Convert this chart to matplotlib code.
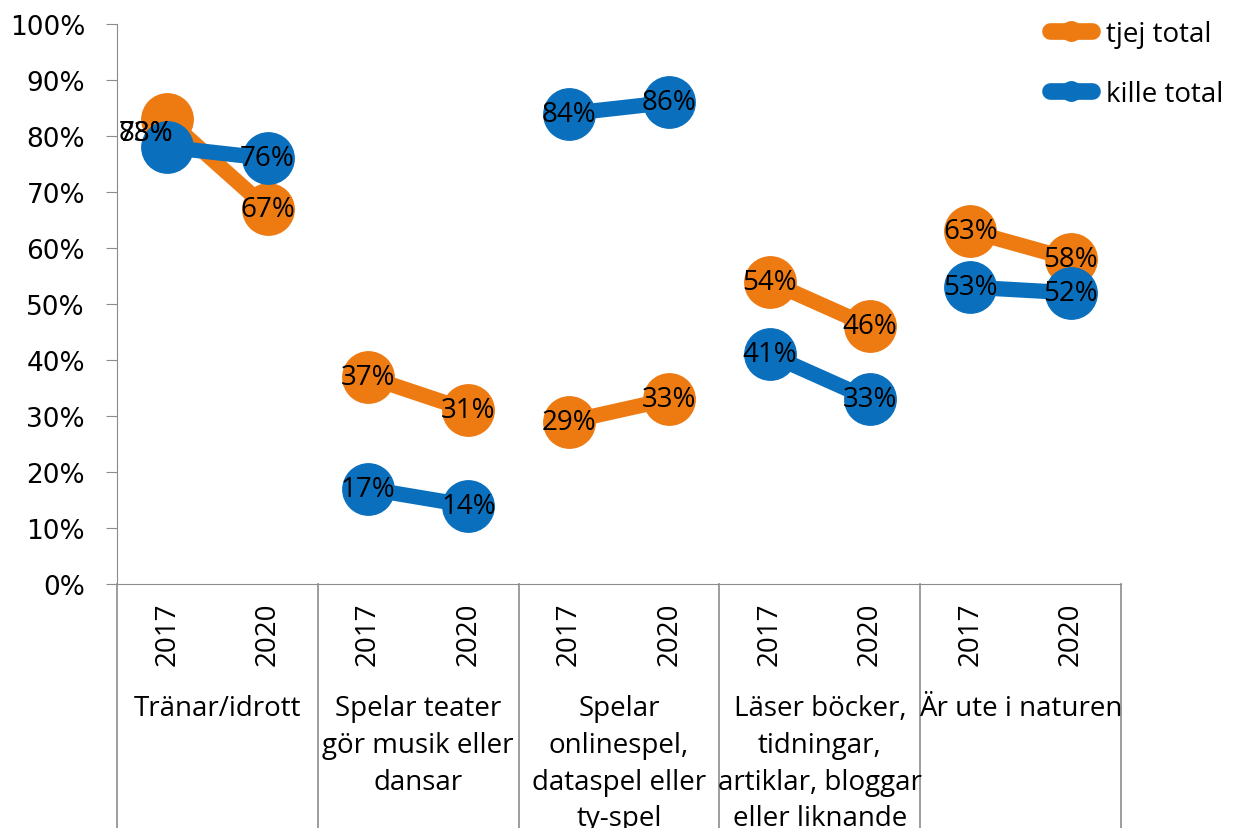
import matplotlib
matplotlib.use("Agg")
import matplotlib.pyplot as plt
import matplotlib.transforms as mtransforms
from matplotlib.lines import Line2D

# ── Data ─────────────────────────────────────────────
categories = [
    "Tränar/idrott",
    "Spelar teater\ngör musik eller\ndansar",
    "Spelar\nonlinespel,\ndataspel eller\nty-spel",
    "Läser böcker,\ntidningar,\nartiklar, bloggar\neller liknande",
    "Är ute i naturen",
]
years = ["2017", "2020"]
tjej_total = [0.83, 0.67, 0.37, 0.31, 0.29, 0.33, 0.54, 0.46, 0.63, 0.58]
kille_total = [0.78, 0.76, 0.17, 0.14, 0.84, 0.86, 0.41, 0.33, 0.53, 0.52]
y_ticks = [0, 0.1, 0.2, 0.3, 0.4, 0.5, 0.6, 0.7, 0.8, 0.9, 1.0]

ORANGE = "#EE7A12"
BLUE = "#0A70BE"
AXIS_GREY = "#8c8c8c"
LABEL_FONT = ["Open Sans", "DejaVu Sans"]

fig = plt.figure(figsize=(12.44, 8.29), dpi=100)
ax = fig.add_axes([117 / 1244, 1 - 585 / 829, 1004 / 1244, 560 / 829])

n_pts = len(tjej_total)
xs = list(range(n_pts))

series = [("tjej total", tjej_total, ORANGE), ("kille total", kille_total, BLUE)]
for name, vals, col in series:
    # one segment per category (2017 -> 2020)
    for g in range(len(categories)):
        i = 2 * g
        ax.plot(xs[i:i + 2], vals[i:i + 2], color=col, lw=11,
                marker="o", markersize=37, solid_capstyle="round",
                zorder=2)

# data labels (first group labels overlap to the left, as in the source)
for name, vals, col in series:
    for i, v in enumerate(vals):
        if i == 0:
            ax.text(xs[i] - 0.21, 0.805, f"{v*100:.0f}%", ha="center",
                    va="center", fontsize=20, family=LABEL_FONT, zorder=5)
        else:
            ax.text(xs[i], v, f"{v*100:.0f}%", ha="center", va="center",
                    fontsize=20, family=LABEL_FONT, zorder=5)

ax.set_xlim(-0.5, n_pts - 0.5)
ax.set_ylim(0, 1)
ax.set_yticks(y_ticks)
ax.set_yticklabels([f"{t*100:.0f}%" for t in y_ticks], fontsize=19)
ax.tick_params(axis="y", direction="out", length=8, color=AXIS_GREY, pad=15)
ax.set_xticks([])
for s in ["top", "right"]:
    ax.spines[s].set_visible(False)
ax.spines["left"].set_color(AXIS_GREY)
ax.spines["bottom"].set_color(AXIS_GREY)

# multi-level category axis
trans = mtransforms.blended_transform_factory(ax.transData, ax.transAxes)
axis_px = 560.0
for b in [-0.5, 1.5, 3.5, 5.5, 7.5, 9.5]:
    ax.plot([b, b], [0, -250 / axis_px], color=AXIS_GREY, lw=1.2,
            transform=trans, clip_on=False)
for i, x in enumerate(xs):
    ax.text(x, -18 / axis_px, years[i % 2], rotation=90, ha="center",
            va="top", fontsize=20, family=LABEL_FONT, transform=trans)
for g, cat in enumerate(categories):
    ax.text(2 * g + 0.5, -110 / axis_px, cat, ha="center", va="top",
            fontsize=20, family=LABEL_FONT, linespacing=1.42,
            transform=trans, clip_on=False)

# legend
handles = [Line2D([0], [0], color=c, lw=12, marker="o", markersize=14,
                  solid_capstyle="round") for _, _, c in series]
fig.legend(handles, [s[0] for s in series], loc="upper right",
           bbox_to_anchor=(1.0, 1.0), frameon=False,
           prop={"family": LABEL_FONT, "size": 20}, handlelength=1.5,
           labelspacing=1.15, handletextpad=0.5, borderaxespad=0.35)

fig.savefig("out.png", dpi=100, facecolor="white")
